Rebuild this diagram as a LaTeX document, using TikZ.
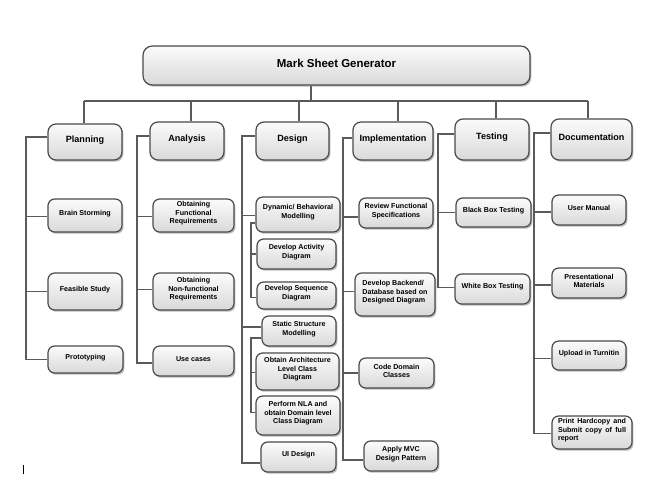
\documentclass[tikz,border=0pt]{standalone}
\usepackage{fontspec}
\setmainfont{Liberation Sans}
\usetikzlibrary{shadows,fit,calc}
\definecolor{edge}{HTML}{4A4A4A}
\definecolor{wirec}{HTML}{5A5A5A}
\tikzset{
 box/.style={draw=edge, line width=0.9pt, rounded corners=5pt, top color=gray!3, bottom color=gray!30, inner sep=0pt,
   drop shadow={shadow xshift=1.1pt, shadow yshift=-1.3pt, opacity=0.45, fill=black!60}},
 topbox/.style={box, rounded corners=7pt},
 midbox/.style={box, rounded corners=6pt},
 ttxt/.style={font=\fontsize{8.6}{10}\selectfont\bfseries, inner sep=0pt},
 mtxt/.style={font=\fontsize{6.8}{8}\selectfont\bfseries, inner sep=0pt},
 ctxt/.style={font=\fontsize{5.35}{6.5}\selectfont\bfseries, inner sep=0pt, align=center},
 wire/.style={draw=wirec, line width=0.8pt},
}
\newcommand\bx[6]{%
 \node[#1, fit={(#3) (#4)}] (#5) {};
 \node[#2] (#5-t) at ([yshift=1.6pt]#5.center) {#6};}
\begin{document}
\begin{tikzpicture}[x=0.75pt,y=-0.75pt]
\useasboundingbox[fill=white] (0,0) rectangle (660,497);
\coordinate (busL) at (84,101);
\coordinate (busR) at (588,101);
\coordinate (stem) at (311,101);
\coordinate (dP) at (84,101);
\coordinate (dA) at (191,101);
\coordinate (dD) at (299,101);
\coordinate (dI) at (398,101);
\coordinate (dT) at (496,101);
\coordinate (dC) at (588,101);
\coordinate (sP) at (26,137);
\coordinate (sA) at (137,136);
\coordinate (sD) at (242,136);
\coordinate (sI) at (343,138);
\coordinate (sT) at (438,134);
\coordinate (sC) at (534,133);
\coordinate (subD) at (251,223);
\coordinate (subS) at (251,338);
% ---- boxes ----
\bx{topbox}{ttxt}{143,46}{530,85}{title}{Mark Sheet Generator}
\bx{midbox}{mtxt}{48,124}{122,160}{planning}{Planning}
\bx{midbox}{mtxt}{150,122}{224,160}{analysis}{Analysis}
\bx{midbox}{mtxt}{256,122}{329,160}{design}{Design}
\bx{midbox}{mtxt}{353,122}{433,160}{impl}{Implementation}
\bx{midbox}{mtxt}{455,119}{529,160}{testing}{Testing}
\bx{midbox}{mtxt}{551,119}{632,160}{doc}{Documentation}
% planning
\bx{box}{ctxt}{48,199}{122,232}{brain}{Brain Storming}
\bx{box}{ctxt}{48,273}{122,310}{feas}{Feasible Study}
\bx{box}{ctxt}{48,346}{123,373}{proto}{Prototyping}
% analysis
\bx{box}{ctxt}{153,199}{234,232}{ofr}{Obtaining\\Functional\\Requirements}
\bx{box}{ctxt}{153,273}{234,310}{onfr}{Obtaining\\Non-functional\\Requirements}
\bx{box}{ctxt}{153,346}{234,376}{uc}{Use cases}
% design
\bx{box}{ctxt}{256,197}{340,232}{dyn}{Dynamic/ Behavioral\\Modelling}
\bx{box}{ctxt}{257,239}{336,269}{act}{Develop Activity\\Diagram}
\bx{box}{ctxt}{257,282}{336,309}{seq}{Develop Sequence\\Diagram}
\bx{box}{ctxt}{262,316}{336,346}{stat}{Static Structure\\Modelling}
\bx{box}{ctxt}{256,353}{339,390}{arch}{Obtain Architecture\\Level Class\\Diagram}
\bx{box}{ctxt}{256,396}{340,435}{nla}{Perform NLA and\\obtain Domain level\\Class Diagram}
\bx{box}{ctxt}{261,442}{336,472}{ui}{UI Design}
% implementation
\bx{box}{ctxt}{359,198}{433,228}{rfs}{Review Functional\\Specifications}
\bx{box}{ctxt,align=left}{355,273}{435,316}{back}{Develop Backend/\\Database based on\\Designed Diagram}
\bx{box}{ctxt}{359,358}{434,388}{cdc}{Code Domain\\Classes}
\bx{box}{ctxt}{364,441}{438,471}{mvc}{Apply MVC\\Design Pattern}
% testing
\bx{box}{ctxt}{456,198}{531,227}{bbt}{Black Box Testing}
\bx{box}{ctxt}{455,274}{530,304}{wbt}{White Box Testing}
% documentation
\bx{box}{ctxt}{552,195}{626,225}{um}{User Manual}
\bx{box}{ctxt}{552,268}{626,298}{pm}{Presentational\\Materials}
\bx{box}{ctxt}{552,341}{626,370}{upl}{Upload in Turnitin}
\bx{box}{ctxt,align=left,text width=51pt}{552,416}{632,449}{print}{Print\hfill Hardcopy\hfill and\\Submit\hfill copy\hfill of\hfill full\\report}
% ---- wires ----
\draw[wire] (busL) -- (busR);
\draw[wire] (title.south -| stem) -- (stem);
\draw[wire] (planning.north -| dP) -- (dP);
\draw[wire] (analysis.north -| dA) -- (dA);
\draw[wire] (design.north -| dD) -- (dD);
\draw[wire] (impl.north -| dI) -- (dI);
\draw[wire] (testing.north -| dT) -- (dT);
\draw[wire] (doc.north -| dC) -- (dC);
% planning spine
\draw[wire] (planning.west |- sP) -- (sP) |- (proto.west);
\draw[wire] (sP) |- ([yshift=-1pt]brain.west);
\draw[wire] (sP) |- (feas.west);
% analysis spine
\draw[wire] (analysis.west |- sA) -- (sA) |- ([yshift=-1.5pt]uc.west);
\draw[wire] (sA) |- ([yshift=-1pt]ofr.west);
\draw[wire] (sA) |- ([yshift=1.5pt]onfr.west);
% design spine
\draw[wire] (design.west |- sD) -- (sD) |- ([yshift=-4.5pt]ui.west);
\draw[wire] (sD) |- ([yshift=-1pt]dyn.west);
\draw[wire] (sD) |- ([yshift=3pt]stat.west);
\draw[wire] (dyn.west |- subD) -- (subD) |- ([yshift=-1.2pt]seq.west);
\draw[wire] (subD) |- (act.west);
\draw[wire] (stat.west |- subS) -- (subS) |- ([yshift=2.5pt]nla.west);
\draw[wire] (subS) |- ([yshift=-1pt]arch.west);
% implementation spine
\draw[wire] (impl.west |- sI) -- (sI) |- ([yshift=-3pt]mvc.west);
\draw[wire] (sI) |- ([yshift=-3pt]rfs.west);
\draw[wire] (sI) |- ([yshift=2.5pt]back.west);
\draw[wire] (sI) |- (cdc.west);
% testing spine
\draw[wire] (testing.west |- sT) -- (sT) |- ([yshift=1.2pt]wbt.west);
\draw[wire] (sT) |- (bbt.west);
% documentation spine
\draw[wire] (doc.west |- sC) -- (sC) |- ([yshift=-1pt]print.west);
\draw[wire] (sC) |- ([yshift=-1.5pt]um.west);
\draw[wire] (sC) |- ([yshift=-1.5pt]pm.west);
\draw[wire] (sC) |- ([yshift=-2pt]upl.west);
% cursor mark
\coordinate (curA) at (23,465);
\coordinate (curB) at (23,474);
\draw[black, line width=0.7pt] (curA) -- (curB);
\end{tikzpicture}
\end{document}
